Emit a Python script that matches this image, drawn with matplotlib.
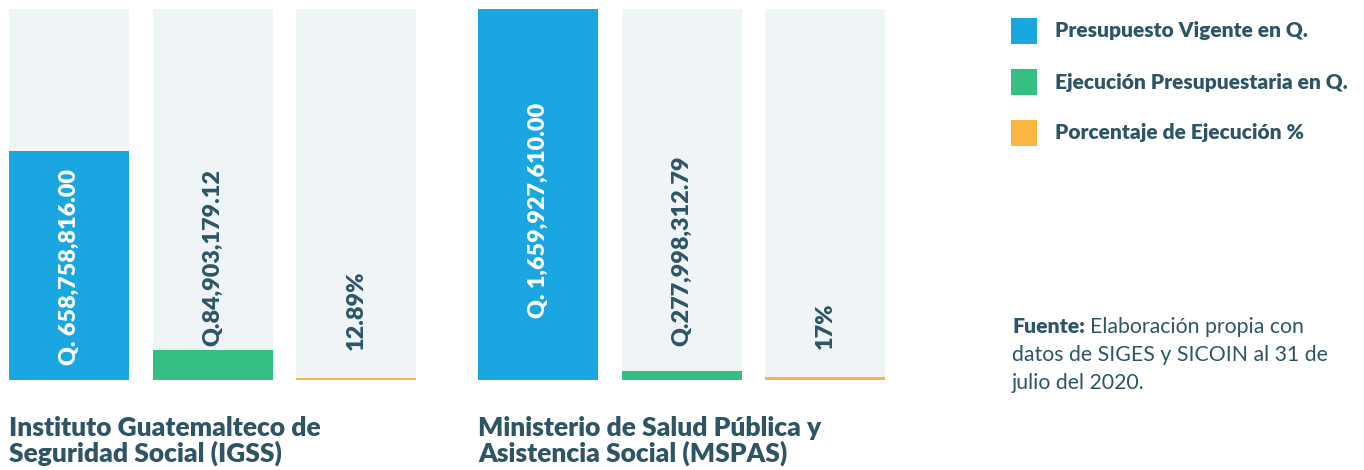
import matplotlib as mpl

mpl.use("Agg")
import matplotlib.pyplot as plt
from matplotlib.patches import Rectangle

plt.rcParams["font.family"] = ["Lato", "DejaVu Sans"]

# data
groups = ["Instituto Guatemalteco de\nSeguridad Social (IGSS)",
          "Ministerio de Salud Pública y\nAsistencia Social (MSPAS)"]
series = ["Presupuesto Vigente en Q.", "Ejecución Presupuestaria en Q.",
          "Porcentaje de Ejecución %"]
# drawn fill of each bar, as % of the panel height (infographic, not to scale)
fill_igss = [61.7, 8.1, 0.6]
fill_mspas = [100.0, 2.3, 0.8]
labels_igss = ["Q. 658,758,816.00", "Q.84,903,179.12", "12.89%"]
labels_mspas = ["Q. 1,659,927,610.00", "Q.277,998,312.79", "17%"]
source_lines = ["Elaboración propia con", "datos de SIGES y SICOIN al 31 de",
                "julio del 2020."]

colors = ["#1aa7e1", "#34be82", "#fbb641"]
panel = "#eff4f7"
ink = "#2d5566"
W, H = 1364, 470
bold = "heavy"

fig = plt.figure(figsize=(W / 100, H / 100), dpi=100)
fig.patch.set_facecolor("white")

# bars axes: pixel x 0..900, pixel y 9..380
ax = fig.add_axes([0, 1 - 380 / H, 900 / W, 371 / H])
ax.set_xlim(0, 900)
ax.set_ylim(0, 100)
ax.axis("off")

bar_w, gap = 120, 23.5
starts = [9, 478]
label_y = [[30.5, 33.0, 18.7], [45.6, 34.9, 14.6]]
for g, (fills, labels) in enumerate([(fill_igss, labels_igss), (fill_mspas, labels_mspas)]):
    for j in range(3):
        x = starts[g] + j * (bar_w + gap) + bar_w / 2
        ax.bar(x, 100, width=bar_w, color=panel, linewidth=0)
        ax.bar(x, fills[j], width=bar_w, color=colors[j], linewidth=0)
        ax.text(x, label_y[g][j], labels[j], rotation=90, ha="center", va="center",
                fontsize=16.8, fontweight=bold,
                color="white" if j == 0 and fills[j] > 50 else ink)
    fig.text(starts[g] / W, 1 - 416 / H, groups[g], ha="left", va="top",
             fontsize=19, fontweight=bold, color=ink, linespacing=1.0)

# legend
for i, (name, c) in enumerate(zip(series, colors)):
    y = 18 + i * 51
    fig.add_artist(Rectangle((1011 / W, 1 - (y + 26) / H), 26 / W, 26 / H,
                             transform=fig.transFigure, color=c, linewidth=0))
    fig.text(1055 / W, 1 - (y + 13) / H, name, ha="left", va="center",
             fontsize=15, fontweight=bold, color=ink)

# source note
renderer = fig.canvas.get_renderer()
head = fig.text(1012 / W, 1 - 333 / H, "Fuente:", ha="left", va="baseline",
                fontsize=15.3, fontweight=bold, color=ink)
head_w = head.get_window_extent(renderer).width
for k, line in enumerate(source_lines):
    x0 = (1012 + head_w + 5) / W if k == 0 else 1012 / W
    fig.text(x0, 1 - (333 + 28 * k) / H, line, ha="left", va="baseline",
             fontsize=15.3, color=ink)

fig.savefig("out.png", dpi=100)
plt.close(fig)
